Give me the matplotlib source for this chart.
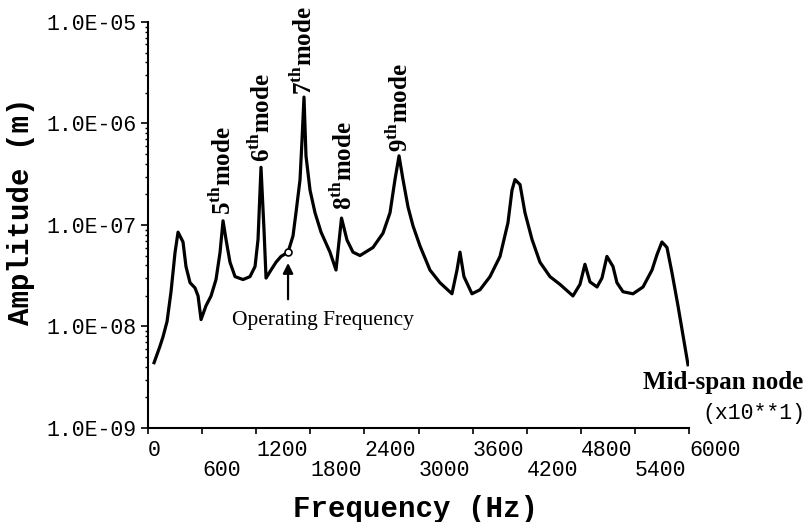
import matplotlib
matplotlib.use("Agg")
import matplotlib.pyplot as plt
from matplotlib.ticker import LogLocator, NullFormatter, FixedLocator

# traced response curve (frequency x10 Hz, amplitude m)
freq = [67, 130, 166, 211, 255, 300, 333, 388, 421, 466,
        521, 555, 588, 643, 699, 754, 799, 832, 865, 909,
        965, 1054, 1131, 1187, 1220, 1253, 1286, 1309, 1364, 1420,
        1475, 1553, 1608, 1641, 1686, 1708, 1730, 1752, 1797, 1852,
        1919, 2018, 2085, 2146, 2207, 2273, 2351, 2495, 2606, 2684,
        2739, 2784, 2828, 2884, 2939, 3017, 3127, 3238, 3371, 3427,
        3460, 3504, 3593, 3682, 3793, 3904, 3992, 4037, 4070, 4126,
        4181, 4259, 4347, 4458, 4569, 4713, 4791, 4846, 4902, 4980,
        5035, 5090, 5157, 5201, 5268, 5379, 5490, 5590, 5645, 5700,
        5756, 5811, 5878, 5989]
amp = [4.4e-9, 6.3e-9, 7.9e-9, 1.12e-8, 2.2e-8, 5.4e-8, 8.5e-8, 6.8e-8, 3.9e-8, 2.7e-8,
       2.4e-8, 2.0e-8, 1.17e-8, 1.6e-8, 2.0e-8, 2.9e-8, 5.4e-8, 1.1e-7, 7.2e-8, 4.3e-8,
       3.1e-8, 2.9e-8, 3.1e-8, 3.9e-8, 7.2e-8, 3.7e-7, 9.1e-8, 3.0e-8, 3.6e-8, 4.3e-8,
       4.9e-8, 5.4e-8, 7.8e-8, 1.32e-7, 2.8e-7, 6.9e-7, 1.82e-6, 4.8e-7, 2.2e-7, 1.32e-7,
       8.5e-8, 5.4e-8, 3.6e-8, 1.17e-7, 7.1e-8, 5.4e-8, 5.0e-8, 6.0e-8, 8.3e-8, 1.32e-7,
       2.8e-7, 4.8e-7, 2.8e-7, 1.5e-7, 9.8e-8, 6.2e-8, 3.6e-8, 2.7e-8, 2.1e-8, 3.6e-8,
       5.4e-8, 3.1e-8, 2.1e-8, 2.3e-8, 3.1e-8, 4.9e-8, 1.05e-7, 2.2e-7, 2.8e-7, 2.5e-7,
       1.32e-7, 7.2e-8, 4.3e-8, 3.1e-8, 2.6e-8, 2.0e-8, 2.6e-8, 4.1e-8, 2.75e-8, 2.45e-8,
       3.0e-8, 4.9e-8, 3.9e-8, 2.7e-8, 2.2e-8, 2.1e-8, 2.45e-8, 3.6e-8, 5.1e-8, 6.8e-8,
       6.0e-8, 3.4e-8, 1.6e-8, 4.2e-9]

mode_names = ["5", "6", "7", "8", "9"]
mode_freq = [832, 1265, 1730, 2174, 2795]
mode_base = [1.26e-7, 4.2e-7, 1.9e-6, 1.4e-7, 5.2e-7]

op_freq, op_amp = 1553, 5.4e-8

xticks = list(range(0, 6001, 600))
yticks = [1e-9, 1e-8, 1e-7, 1e-6, 1e-5]
ytick_labels = ["1.0E-09", "1.0E-08", "1.0E-07", "1.0E-06", "1.0E-05"]

plt.rcParams['mathtext.fontset'] = 'custom'
plt.rcParams['mathtext.rm'] = 'Liberation Serif:bold'
plt.rcParams['mathtext.bf'] = 'Liberation Serif:bold'

fig = plt.figure(figsize=(8.12, 5.22), dpi=100)
ax = fig.add_axes([0.1823, 0.1801, 0.6662, 0.7778])

ax.plot(freq, amp, color="black", lw=2.3, solid_joinstyle="round")
ax.set_yscale("log")
ax.set_xlim(0, 6000)
ax.set_ylim(1e-9, 1e-5)

for s in ["top", "right"]:
    ax.spines[s].set_visible(False)
for s in ["left", "bottom"]:
    ax.spines[s].set_linewidth(1.5)

mono = "Liberation Mono"

# y axis
ax.yaxis.set_major_locator(FixedLocator(yticks))
ax.set_yticklabels(ytick_labels, fontfamily=mono, fontsize=15.5)
ax.yaxis.set_minor_locator(LogLocator(base=10, subs=range(2, 10)))
ax.yaxis.set_minor_formatter(NullFormatter())
ax.tick_params(axis="y", which="major", direction="out", length=5, width=1.2, pad=3)
ax.tick_params(axis="y", which="minor", direction="out", length=2.5, width=1)

# x axis, staggered labels
ax.set_xticks(xticks)
xlabels = [str(v) if i % 2 == 0 else "\n" + str(v) for i, v in enumerate(xticks)]
ax.set_xticklabels(xlabels, fontfamily=mono, fontsize=15.5, ha="left", linespacing=0.95)
ax.tick_params(axis="x", direction="out", length=4.5, width=1.2, pad=4)

ax.set_xlabel("Frequency (Hz)", fontfamily=mono, fontweight="bold", fontsize=21)
ax.xaxis.set_label_coords(0.495, -0.165)
ax.set_ylabel("Amplitude (m)", fontfamily=mono, fontweight="bold", fontsize=21,
              va="center", ha="center")
ax.yaxis.set_label_coords(-0.235, 0.533)

# mode labels
for n, f, a in zip(mode_names, mode_freq, mode_base):
    ax.text(f, a, n + r"$^{\mathrm{th}}$" + "mode", rotation=90, ha="center", va="bottom",
            fontfamily="Liberation Serif", fontweight="bold", fontsize=18)

# operating frequency
ax.plot([op_freq], [op_amp], marker="o", ms=5, mfc="white", mec="black", mew=1.2)
ax.annotate("", xy=(op_freq, 4.5e-8), xytext=(op_freq, 1.74e-8),
            arrowprops=dict(arrowstyle="-|>", color="black", lw=1.6, mutation_scale=15))
ax.text(1941, 1.15e-8, "Operating Frequency", ha="center", va="center",
        fontfamily="Liberation Serif", fontsize=15.5)

ax.text(6377, 2.8e-9, "Mid-span node", ha="center", va="center",
        fontfamily="Liberation Serif", fontweight="bold", fontsize=18)
ax.text(6721, 1.4e-9, "(x10**1)", ha="center", va="center",
        fontfamily=mono, fontsize=15.5)

plt.savefig("out.png", dpi=100)
plt.close()
